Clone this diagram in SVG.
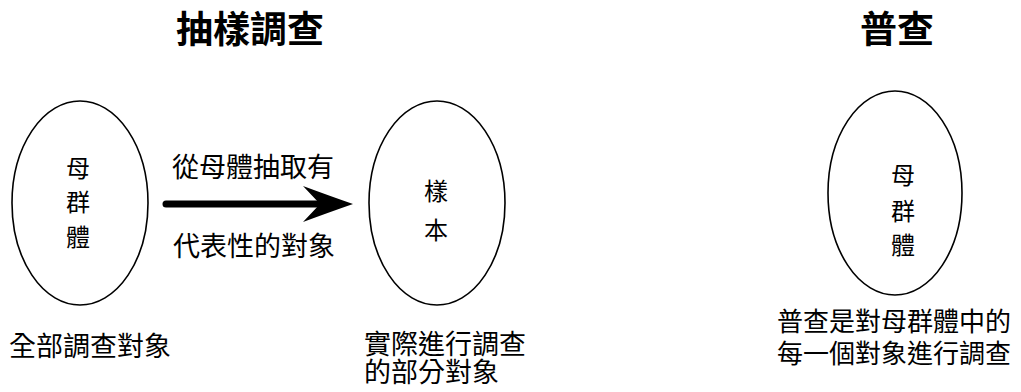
<svg xmlns="http://www.w3.org/2000/svg" width="1021" height="392" viewBox="0 0 1021 392">
<style>
.bg{fill:#fff}
.oval{fill:none;stroke:#000;stroke-width:1.6}
.t{font-family:"Noto Sans CJK TC","Noto Sans CJK JP",sans-serif;fill:#000}
.t2{font-family:"Liberation Sans","Noto Sans CJK TC","Noto Sans CJK JP",sans-serif;fill:#000}
.title{font-size:37px;font-weight:bold;text-anchor:middle}
.in{font-size:24px;text-anchor:middle}
.lbl{font-size:27px}
.lbl2{font-size:26px}
.arrowline{stroke:#000;stroke-width:7;stroke-linecap:round;fill:none}
</style>
<rect class="bg" x="0" y="0" width="1021" height="392"/>
<g id="title-sampling"><text class="t title" x="250" y="43">抽樣調查</text></g>
<g id="title-census"><text class="t title" x="897" y="43">普查</text></g>
<g id="population">
<ellipse class="oval" cx="80" cy="203" rx="68" ry="102"/>
<text class="t in" x="78"><tspan x="78" y="177">母</tspan><tspan x="78" y="211">群</tspan><tspan x="78" y="246">體</tspan></text>
</g>
<g id="sample">
<ellipse class="oval" cx="437" cy="203" rx="68" ry="102"/>
<text class="t in" x="436"><tspan x="436" y="200">樣</tspan><tspan x="436" y="239">本</tspan></text>
</g>
<g id="census-population">
<ellipse class="oval" cx="895" cy="193" rx="67" ry="102"/>
<text class="t in" x="903"><tspan x="903" y="184">母</tspan><tspan x="903" y="220">群</tspan><tspan x="903" y="254">體</tspan></text>
</g>
<g id="connectors">
<line class="arrowline" x1="166" y1="204" x2="318" y2="204"/>
<path d="M303,186 Q330,196 353,204 Q330,212 303,222 L320,204 Z" fill="#000"/>
</g>
<g id="labels">
<text class="t lbl" x="172" y="177">從母體抽取有</text>
<text class="t lbl" x="173" y="256">代表性的對象</text>
<text class="t lbl" x="9" y="356">全部調查對象</text>
<text class="t2 lbl" x="364"><tspan x="364" y="354">實際進行調查</tspan><tspan x="364" y="382">的部分對象</tspan></text>
<text class="t2 lbl2" x="777"><tspan x="777" y="331">普查是對母群體中的</tspan><tspan x="777" y="363">每一個對象進行調查</tspan></text>
</g>
</svg>
